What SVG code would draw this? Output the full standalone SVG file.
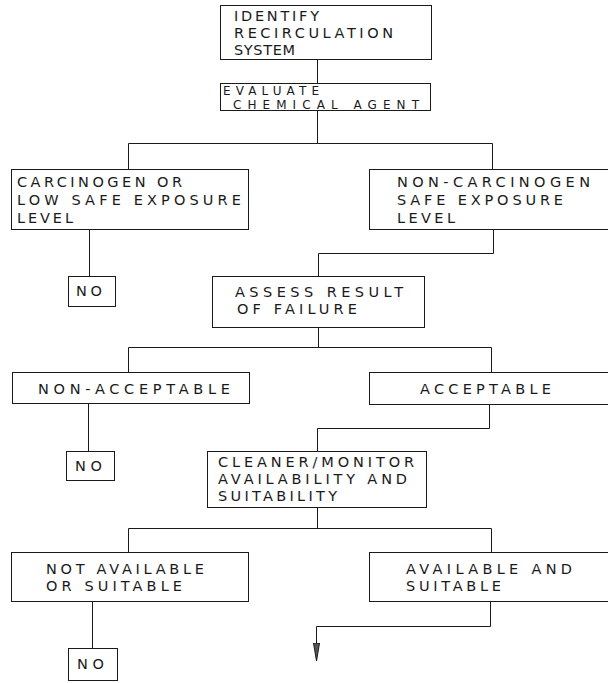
<svg xmlns="http://www.w3.org/2000/svg" width="608" height="683" viewBox="0 0 608 683">
<style>
  .box { fill: #ffffff; stroke: #1a1a1a; stroke-width: 1; }
  .lbl { font-family: "DejaVu Sans", "Liberation Sans", Arial, sans-serif; font-size: 14.5px; fill: #1a1a1a; }
  .tight { font-size: 12px; }
  .conn { fill: none; stroke: #1a1a1a; stroke-width: 1; }
</style>
<defs>
  <marker id="arrow" markerUnits="userSpaceOnUse" markerWidth="20" markerHeight="10" viewBox="0 -5 20 10" refX="18" refY="0" orient="auto">
    <path d="M0,-3 L18,0 L0,3 Z" fill="#555555" stroke="#1a1a1a" stroke-width="1"/>
  </marker>
</defs>
<rect width="608" height="683" fill="#ffffff"/>

<g id="connectors">
  <path class="conn" d="M317.5,59.5 V83.5"/>
  <path class="conn" d="M317.5,110.5 V143.5"/>
  <path class="conn" d="M128.5,169.5 V143.5 H492.5 V169.5"/>
  <path class="conn" d="M89.5,229.5 V276.5"/>
  <path class="conn" d="M493.5,229.5 V253.5 H318.5 V276.5"/>
  <path class="conn" d="M318.5,327.5 V347.5"/>
  <path class="conn" d="M128.5,372.5 V347.5 H491.5 V372.5"/>
  <path class="conn" d="M88.5,403.5 V451.5"/>
  <path class="conn" d="M489.5,404.5 V428.5 H317.5 V451.5"/>
  <path class="conn" d="M317.5,507.5 V528.5"/>
  <path class="conn" d="M128.5,552.5 V528.5 H491.5 V552.5"/>
  <path class="conn" d="M92.5,601.5 V648.5"/>
  <path class="conn" d="M490.5,601.5 V626.5 H316.5 V661" marker-end="url(#arrow)"/>
</g>

<g id="identify">
  <rect class="box" x="220.5" y="5.5" width="211" height="54"/>
  <text class="lbl" x="234" y="21" textLength="85" lengthAdjust="spacing">IDENTIFY</text>
  <text class="lbl" x="234" y="38" textLength="159" lengthAdjust="spacing">RECIRCULATION</text>
  <text class="lbl" x="234" y="55" textLength="61" lengthAdjust="spacing">SYSTEM</text>
</g>

<g id="evaluate">
  <rect class="box" x="220.5" y="83.5" width="210" height="27"/>
  <text class="lbl tight" x="223" y="95" textLength="96" lengthAdjust="spacing">EVALUATE</text>
  <text class="lbl tight" x="233" y="108.5" textLength="186" lengthAdjust="spacing">CHEMICAL AGENT</text>
</g>

<g id="carcinogen">
  <rect class="box" x="11.5" y="169.5" width="237" height="60"/>
  <text class="lbl" x="17" y="187" textLength="165" lengthAdjust="spacing">CARCINOGEN OR</text>
  <text class="lbl" x="17" y="205" textLength="224" lengthAdjust="spacing">LOW SAFE EXPOSURE</text>
  <text class="lbl" x="17" y="223" textLength="56" lengthAdjust="spacing">LEVEL</text>
</g>

<g id="non-carcinogen">
  <rect class="box" x="369.5" y="169.5" width="242" height="60"/>
  <text class="lbl" x="397" y="187" textLength="193" lengthAdjust="spacing">NON-CARCINOGEN</text>
  <text class="lbl" x="397" y="205" textLength="166" lengthAdjust="spacing">SAFE EXPOSURE</text>
  <text class="lbl" x="397" y="223" textLength="58" lengthAdjust="spacing">LEVEL</text>
</g>

<g id="no1">
  <rect class="box" x="68.5" y="276.5" width="47" height="30"/>
  <text class="lbl" x="76" y="296" textLength="26" lengthAdjust="spacing">NO</text>
</g>

<g id="assess">
  <rect class="box" x="212.5" y="276.5" width="212" height="51"/>
  <text class="lbl" x="235" y="297" textLength="168" lengthAdjust="spacing">ASSESS RESULT</text>
  <text class="lbl" x="237" y="314" textLength="120" lengthAdjust="spacing">OF FAILURE</text>
</g>

<g id="non-acceptable">
  <rect class="box" x="12.5" y="372.5" width="237" height="31"/>
  <text class="lbl" x="38" y="393.5" textLength="192" lengthAdjust="spacing">NON-ACCEPTABLE</text>
</g>

<g id="acceptable">
  <rect class="box" x="369.5" y="372.5" width="242" height="32"/>
  <text class="lbl" x="420" y="393.5" textLength="131" lengthAdjust="spacing">ACCEPTABLE</text>
</g>

<g id="no2">
  <rect class="box" x="66.5" y="451.5" width="48" height="29"/>
  <text class="lbl" x="75" y="471" textLength="27" lengthAdjust="spacing">NO</text>
</g>

<g id="cleaner">
  <rect class="box" x="207.5" y="451.5" width="219" height="56"/>
  <text class="lbl" x="218" y="467" textLength="196" lengthAdjust="spacing">CLEANER/MONITOR</text>
  <text class="lbl" x="218" y="484" textLength="189" lengthAdjust="spacing">AVAILABILITY AND</text>
  <text class="lbl" x="218" y="501" textLength="119" lengthAdjust="spacing">SUITABILITY</text>
</g>

<g id="not-available">
  <rect class="box" x="11.5" y="552.5" width="237" height="49"/>
  <text class="lbl" x="46" y="574" textLength="158" lengthAdjust="spacing">NOT AVAILABLE</text>
  <text class="lbl" x="46" y="591" textLength="136" lengthAdjust="spacing">OR SUITABLE</text>
</g>

<g id="available">
  <rect class="box" x="369.5" y="552.5" width="242" height="49"/>
  <text class="lbl" x="406" y="574" textLength="166" lengthAdjust="spacing">AVAILABLE AND</text>
  <text class="lbl" x="406" y="591" textLength="95" lengthAdjust="spacing">SUITABLE</text>
</g>

<g id="no3">
  <rect class="box" x="68.5" y="648.5" width="49" height="32"/>
  <text class="lbl" x="77" y="669" textLength="27" lengthAdjust="spacing">NO</text>
</g>
</svg>
